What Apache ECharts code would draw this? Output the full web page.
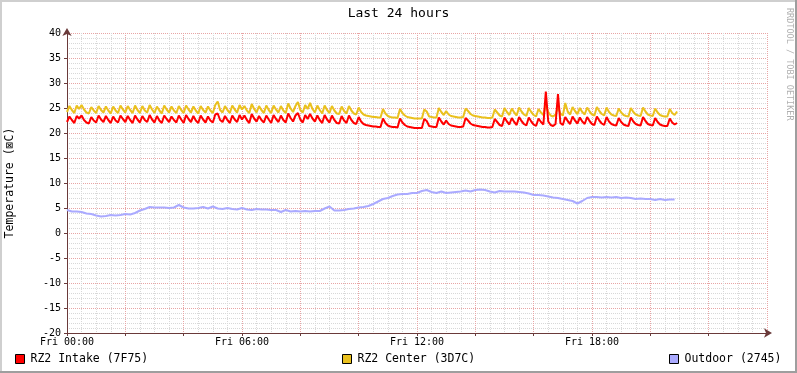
<!DOCTYPE html>
<html>
<head>
<meta charset="utf-8">
<script src="https://cdn.jsdelivr.net/npm/echarts@6/dist/echarts.min.js"></script>
<style>
html,body{margin:0;padding:0;background:#fff;}
#c{width:797px;height:373px;}
</style>
</head>
<body>
<div id="c"></div>
<script>
// ---- data (5-minute samples from Fri 00:00) ----
const titleText = 'Last 24 hours';
const yAxisTitle = 'Temperature (\u22A0C)';
const watermark = 'RRDTOOL / TOBI OETIKER';
const seriesNames = ['RZ2 Intake (7F75)', 'RZ2 Center (3D7C)', 'Outdoor (2745)'];
const yTicks = [-20, -15, -10, -5, 0, 5, 10, 15, 20, 25, 30, 35, 40];
const xTickLabels = ['Fri 00:00', 'Fri 06:00', 'Fri 12:00', 'Fri 18:00'];
const intakeStepMin = 5;
const centerStepMin = 5;
const outdoorStepMin = 10;

const intake = [
 22.2,23.3,22.6,22.0,23.4,22.9,23.5,22.6,22.1,21.9,23.2,22.5,
 22.1,23.5,22.7,22.2,23.4,22.6,22.0,23.3,22.5,22.1,23.5,22.8,
 22.2,23.4,22.6,22.0,23.5,22.7,22.1,23.4,22.6,22.2,23.6,22.7,
 22.1,23.4,22.5,22.0,23.5,22.8,22.2,23.3,22.6,22.1,23.5,22.7,
 22.0,23.6,22.8,22.2,23.4,22.5,22.0,23.5,22.7,22.1,23.3,22.5,
 22.1,23.7,23.9,22.6,22.2,23.4,22.6,22.0,23.5,22.7,22.2,23.6,
 22.7,23.5,22.6,22.0,23.8,22.9,22.3,23.4,22.6,22.1,23.5,22.7,
 22.0,23.6,22.8,22.2,23.5,22.6,22.1,23.9,23.0,22.3,23.5,24.0,
 22.7,22.1,23.6,22.8,23.8,22.9,22.3,23.5,22.6,22.0,23.6,22.7,
 22.1,23.5,22.6,22.0,21.9,23.4,22.5,22.0,23.5,22.6,22.0,21.8,
 23.2,22.3,21.8,21.6,21.5,21.4,21.3,21.3,21.2,21.2,22.9,22.0,
 21.5,21.3,21.2,21.2,21.1,22.9,22.1,21.6,21.3,21.2,21.1,21.0,
 21.0,21.0,21.0,22.8,22.4,21.4,21.3,21.2,21.2,23.1,22.3,21.7,
 22.5,21.8,21.5,21.4,21.3,21.2,21.2,21.3,23.0,22.5,21.9,21.6,
 21.5,21.4,21.3,21.2,21.2,21.1,21.1,21.2,22.8,22.2,21.6,21.4,
 23.1,22.3,21.7,23.0,22.2,21.6,23.2,22.4,21.8,21.5,23.1,22.3,
 21.7,21.4,22.9,22.2,21.7,28.3,22.3,21.6,21.4,21.8,27.8,22.0,
 21.6,23.2,22.4,21.8,23.3,22.5,21.9,23.1,22.3,21.8,23.2,22.4,
 21.8,21.6,23.3,22.5,21.9,21.6,23.2,22.3,21.8,21.6,21.5,23.0,
 22.2,21.7,21.5,21.4,23.1,22.3,21.8,21.6,21.5,23.2,22.4,21.8,
 21.6,21.5,23.0,22.2,21.7,21.5,21.4,21.4,22.9,22.1,21.7,22.0
];

const center = [
 24.2,25.4,24.6,24.0,25.5,24.8,25.6,24.7,24.1,23.9,25.2,24.5,
 24.0,25.4,24.6,24.1,25.3,24.5,23.9,25.3,24.5,24.0,25.5,24.7,
 24.1,25.4,24.6,24.0,25.5,24.6,24.0,25.4,24.5,24.1,25.6,24.7,
 24.0,25.3,24.5,23.9,25.5,24.7,24.1,25.3,24.5,24.0,25.4,24.6,
 24.0,25.5,24.7,24.1,25.3,24.5,23.9,25.4,24.6,24.1,25.3,24.5,
 24.0,25.6,26.3,24.6,24.1,25.4,24.6,24.0,25.5,24.7,24.1,25.6,
 24.7,25.4,24.5,24.0,25.8,24.8,24.1,25.4,24.6,24.0,25.5,24.6,
 24.0,25.5,24.7,24.1,25.4,24.5,24.0,25.9,24.9,24.2,25.4,26.2,
 24.6,24.1,25.6,24.8,26.0,24.8,24.1,25.5,24.6,23.9,25.5,24.6,
 24.0,25.4,24.5,23.9,23.8,25.3,24.4,23.9,25.4,24.5,23.9,23.7,
 25.1,24.2,23.7,23.5,23.4,23.3,23.2,23.2,23.1,23.1,24.8,23.9,
 23.4,23.2,23.1,23.1,23.0,24.8,24.0,23.5,23.2,23.1,23.0,22.9,
 22.9,22.9,22.9,24.7,24.3,23.3,23.2,23.1,23.1,25.0,24.2,23.6,
 24.4,23.7,23.4,23.3,23.2,23.1,23.1,23.2,24.9,24.4,23.8,23.5,
 23.4,23.3,23.2,23.1,23.1,23.0,23.0,23.1,24.7,24.1,23.5,23.3,
 25.0,24.2,23.6,24.9,24.1,23.5,25.1,24.3,23.7,23.4,25.0,24.2,
 23.6,23.3,24.8,24.1,23.6,25.6,24.2,23.5,23.3,23.7,25.2,23.9,
 23.5,26.0,24.3,23.7,25.2,24.4,23.8,25.0,24.2,23.7,25.1,24.3,
 23.7,23.5,25.2,24.4,23.8,23.5,25.1,24.2,23.7,23.5,23.4,24.9,
 24.1,23.6,23.4,23.3,25.0,24.2,23.7,23.5,23.4,25.1,24.3,23.7,
 23.5,23.4,24.9,24.1,23.6,23.4,23.3,23.3,24.8,24.0,23.6,24.3
];

const outdoor = [
 4.6,4.3,4.3,4.2,3.9,3.8,3.5,3.3,3.4,3.6,3.5,3.6,
 3.8,3.7,4.0,4.5,4.8,5.2,5.1,5.1,5.1,5.0,5.1,5.6,
 5.1,4.9,4.9,5.0,5.2,4.9,5.3,4.9,4.8,5.0,4.8,4.7,
 5.0,4.7,4.6,4.8,4.7,4.7,4.6,4.6,4.2,4.6,4.3,4.4,
 4.3,4.4,4.3,4.4,4.4,4.9,5.3,4.5,4.5,4.6,4.8,4.9,
 5.1,5.2,5.4,5.8,6.3,6.8,7.0,7.4,7.7,7.8,7.8,8.0,
 8.0,8.4,8.6,8.2,8.0,8.3,8.0,8.1,8.2,8.3,8.5,8.3,
 8.6,8.7,8.6,8.3,8.1,8.4,8.3,8.3,8.3,8.2,8.1,7.9,
 7.6,7.6,7.5,7.3,7.1,7.0,6.8,6.6,6.4,5.9,6.4,7.0,
 7.2,7.2,7.1,7.2,7.1,7.2,7.0,7.1,7.0,6.8,6.9,6.8,
 6.8,6.6,6.8,6.6,6.7,6.7
];

const colors = ['#FF0000', '#EAC11E', '#AAAAFF'];
const FONT = 'DejaVu Sans Mono';

function toXY(arr, stepMin){ return arr.map((v,i)=>[i*stepMin/60, v]); }

const chart = echarts.init(document.getElementById('c'), null, {renderer:'canvas'});

const legendBase = {
  orient:'horizontal', top: 353, icon:'rect', itemWidth:9, itemHeight:9,
  itemGap: 6, selectedMode:false, padding:0,
  itemStyle:{borderColor:'#000', borderWidth:1},
  textStyle:{fontFamily:FONT, fontSize:11.5, color:'#000', padding:[0,0,0,1]}
};

chart.setOption({
  animation:false,
  backgroundColor:'#fff',
  title:{text:titleText, left:'center', top:2,
    textStyle:{fontFamily:FONT, fontSize:13, fontWeight:'normal', color:'#000'}},
  legend:[
    Object.assign({}, legendBase, {left:15, data:[seriesNames[0]]}),
    Object.assign({}, legendBase, {left:342, data:[seriesNames[1]]}),
    Object.assign({}, legendBase, {left:669, data:[seriesNames[2]]})
  ],
  grid:{left:67, top:33, width:700, height:300, containLabel:false, outerBoundsMode:'none'},
  xAxis:{
    type:'value', min:0, max:24, interval:2,
    axisLine:{show:true, onZero:false, lineStyle:{color:'#6a3a3a', width:1},
      symbol:['none','arrow'], symbolSize:[7,8], symbolOffset:[0,5]},
    axisTick:{show:true, length:3, lineStyle:{color:'#6a3a3a'}},
    minorTick:{show:false, splitNumber:4},
    axisLabel:{fontFamily:FONT, fontSize:10, color:'#000', margin:4,
      showMaxLabel:false,
      formatter:function(v){ if (v%6===0 && v<24) return xTickLabels[v/6]; return ''; }},
    splitLine:{show:true, lineStyle:{color:'#E8A5A5', type:'dotted', width:1}},
    minorSplitLine:{show:true, lineStyle:{color:'#D8D8D8', type:'dotted', width:1}}
  },
  yAxis:{
    type:'value', min:yTicks[0], max:yTicks[yTicks.length-1], interval:5,
    name:yAxisTitle, nameLocation:'middle', nameGap:51,
    nameTextStyle:{fontFamily:FONT, fontSize:11.5, color:'#000'},
    axisLine:{show:true, onZero:false, lineStyle:{color:'#6a3a3a', width:1},
      symbol:['none','arrow'], symbolSize:[7,8], symbolOffset:[0,5]},
    axisTick:{show:true, length:3, lineStyle:{color:'#6a3a3a'}},
    minorTick:{show:false, splitNumber:5},
    axisLabel:{fontFamily:FONT, fontSize:10, color:'#000', margin:6},
    splitLine:{show:true, lineStyle:{color:'#E8A5A5', type:'dotted', width:1}},
    minorSplitLine:{show:true, lineStyle:{color:'#D8D8D8', type:'dotted', width:1}}
  },
  series:[
    {name:seriesNames[0], type:'line', data:toXY(intake, intakeStepMin), showSymbol:false,
      lineStyle:{color:colors[0], width:2}, itemStyle:{color:colors[0]}, z:4},
    {name:seriesNames[1], type:'line', data:toXY(center, centerStepMin), showSymbol:false,
      lineStyle:{color:colors[1], width:2}, itemStyle:{color:colors[1]}, z:3},
    {name:seriesNames[2], type:'line', data:toXY(outdoor, outdoorStepMin), showSymbol:false,
      lineStyle:{color:colors[2], width:2}, itemStyle:{color:colors[2]}, z:3}
  ],
  graphic:[
    {type:'rect', shape:{x:0,y:0,width:797,height:2}, style:{fill:'#CFCFCF'}, silent:true},
    {type:'rect', shape:{x:0,y:0,width:2,height:373}, style:{fill:'#CFCFCF'}, silent:true},
    {type:'rect', shape:{x:795,y:0,width:2,height:373}, style:{fill:'#9E9E9E'}, silent:true},
    {type:'rect', shape:{x:0,y:371,width:797,height:2}, style:{fill:'#9E9E9E'}, silent:true},
    {type:'text', x:794, y:8, rotation:-Math.PI/2,
      style:{text:watermark, fontFamily:FONT, fontSize:8.5, fill:'#B0B0B0', textAlign:'left', textVerticalAlign:'top'}, silent:true}
  ]
});
</script>
</body>
</html>
